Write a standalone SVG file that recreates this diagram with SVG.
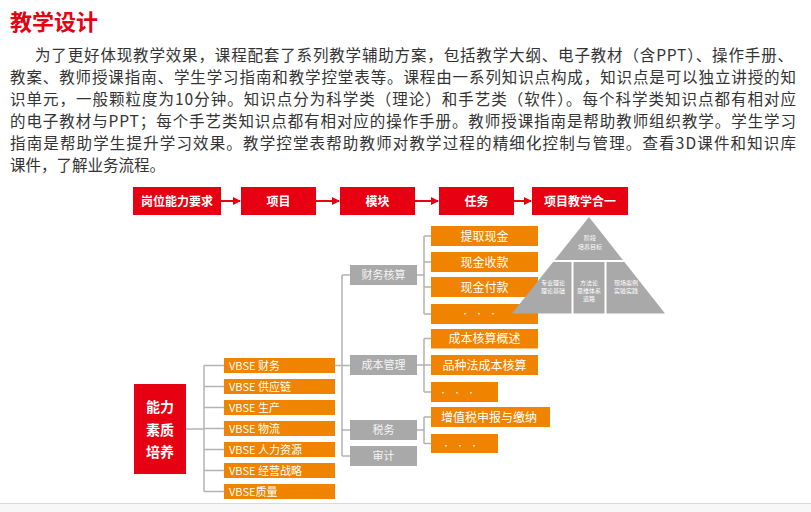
<svg xmlns="http://www.w3.org/2000/svg" width="811" height="512" viewBox="0 0 811 512">
<style>
.ft{font-family:"Noto Sans CJK SC","Noto Sans",sans-serif}
.red{fill:#E60012}
.org{fill:#F08300}
.gry{fill:#A9A9A9}
.wt{fill:#FFFFFF}
.para{font-size:15.5px;fill:#333333}
.flow{font-size:12px;font-weight:bold;fill:#FFFFFF;text-anchor:middle}
.vb{font-size:11px;fill:#FFFFFF}
.md{font-size:11px;fill:#F4F4F4;text-anchor:middle}
.tk{font-size:12px;fill:#FFFFFF;text-anchor:middle}
.dots{font-size:8px;fill:#FFFFFF;text-anchor:middle;letter-spacing:6px}
.py{font-size:6px;fill:#FFFFFF;text-anchor:middle}
.conn{stroke:#B3B3B3;stroke-width:1.5;fill:none}
.rarr{stroke:#E60012;stroke-width:2;fill:none}
</style>
<defs>
<marker id="ah" markerWidth="8" markerHeight="8" refX="7" refY="4" orient="auto" markerUnits="userSpaceOnUse">
<path d="M0,0 L8,4 L0,8 Z" fill="#E60012"/>
</marker>
</defs>
<rect width="811" height="512" fill="#FFFFFF"/>
<g id="title">
<text class="ft" x="10" y="30" font-size="22" font-weight="bold" fill="#E60012">教学设计</text>
</g>
<g id="paragraph" class="ft para">
<text x="35" y="61" textLength="758" lengthAdjust="spacing">为了更好体现教学效果，课程配套了系列教学辅助方案，包括教学大纲、电子教材（含PPT）、操作手册、</text>
<text x="10" y="83" textLength="786" lengthAdjust="spacing">教案、教师授课指南、学生学习指南和教学控堂表等。课程由一系列知识点构成，知识点是可以独立讲授的知</text>
<text x="10" y="105" textLength="786" lengthAdjust="spacing">识单元，一般颗粒度为10分钟。知识点分为科学类（理论）和手艺类（软件）。每个科学类知识点都有相对应</text>
<text x="10" y="127" textLength="786" lengthAdjust="spacing">的电子教材与PPT；每个手艺类知识点都有相对应的操作手册。教师授课指南是帮助教师组织教学。学生学习</text>
<text x="10" y="149" textLength="786" lengthAdjust="spacing">指南是帮助学生提升学习效果。教学控堂表帮助教师对教学过程的精细化控制与管理。查看3D课件和知识库</text>
<text x="10" y="171">课件，了解业务流程。</text>
</g>
<g id="flow-connectors">
<path class="rarr" d="M221 201 H240" marker-end="url(#ah)"/>
<path class="rarr" d="M316 201 H339" marker-end="url(#ah)"/>
<path class="rarr" d="M415 201 H438" marker-end="url(#ah)"/>
<path class="rarr" d="M514 201 H531" marker-end="url(#ah)"/>
</g>
<g id="flow1"><rect class="red" x="133" y="187" width="88" height="28"/><text class="ft flow" x="177" y="205.5">岗位能力要求</text></g>
<g id="flow2"><rect class="red" x="241" y="187" width="75" height="28"/><text class="ft flow" x="278.5" y="205.5">项目</text></g>
<g id="flow3"><rect class="red" x="340" y="187" width="75" height="28"/><text class="ft flow" x="377.5" y="205.5">模块</text></g>
<g id="flow4"><rect class="red" x="439" y="187" width="75" height="28"/><text class="ft flow" x="476.5" y="205.5">任务</text></g>
<g id="flow5"><rect class="red" x="532" y="187" width="96" height="28"/><text class="ft flow" x="580" y="205.5">项目教学合一</text></g>

<g id="connectors">
<path class="conn" d="M186 429 H204 M204 365.5 V491.5 M204 365.5 H224 M204 386.5 H224 M204 407.5 H224 M204 428.5 H224 M204 449.5 H224 M204 470.5 H224 M204 491.5 H224"/>
<path class="conn" d="M335 365.5 H350 M342 275 V456 M342 275 H350 M342 430 H350 M342 456 H350"/>
<path class="conn" d="M417 275 H424 M424 236 V314 M424 236 H431 M424 262 H431 M424 287 H431 M424 314 H431"/>
<path class="conn" d="M417 365 H424 M424 338.5 V392 M424 338.5 H431 M424 365 H431 M424 392 H431"/>
<path class="conn" d="M417 430 H424 M424 417 V443.5 M424 417 H431 M424 443.5 H431"/>
</g>

<g id="root"><rect class="red" x="134" y="384" width="52" height="90"/>
<text class="ft" x="160" y="412" font-size="14" font-weight="bold" fill="#FFFFFF" text-anchor="middle">能力</text>
<text class="ft" x="160" y="434.5" font-size="14" font-weight="bold" fill="#FFFFFF" text-anchor="middle">素质</text>
<text class="ft" x="160" y="457" font-size="14" font-weight="bold" fill="#FFFFFF" text-anchor="middle">培养</text></g>

<g id="vbse1"><rect class="org" x="224" y="358" width="111" height="15"/><text class="ft vb" x="229" y="369.5">VBSE 财务</text></g>
<g id="vbse2"><rect class="org" x="224" y="379" width="111" height="15"/><text class="ft vb" x="229" y="390.5">VBSE 供应链</text></g>
<g id="vbse3"><rect class="org" x="224" y="400" width="111" height="15"/><text class="ft vb" x="229" y="411.5">VBSE 生产</text></g>
<g id="vbse4"><rect class="org" x="224" y="421" width="111" height="15"/><text class="ft vb" x="229" y="432.5">VBSE 物流</text></g>
<g id="vbse5"><rect class="org" x="224" y="442" width="111" height="15"/><text class="ft vb" x="229" y="453.5">VBSE 人力资源</text></g>
<g id="vbse6"><rect class="org" x="224" y="463" width="111" height="15"/><text class="ft vb" x="229" y="474.5">VBSE 经营战略</text></g>
<g id="vbse7"><rect class="org" x="224" y="484" width="111" height="15"/><text class="ft vb" x="229" y="495.5">VBSE质量</text></g>

<g id="mod1"><rect class="gry" x="350" y="265" width="67" height="20"/><text class="ft md" x="383.5" y="279">财务核算</text></g>
<g id="mod2"><rect class="gry" x="350" y="355" width="67" height="20"/><text class="ft md" x="383.5" y="369">成本管理</text></g>
<g id="mod3"><rect class="gry" x="350" y="420" width="67" height="20"/><text class="ft md" x="383.5" y="434">税务</text></g>
<g id="mod4"><rect class="gry" x="350" y="446" width="67" height="20"/><text class="ft md" x="383.5" y="460">审计</text></g>

<g id="task1"><rect class="org" x="431" y="226" width="107" height="20"/><text class="ft tk" x="484.5" y="240.5">提取现金</text></g>
<g id="task2"><rect class="org" x="431" y="252" width="107" height="20"/><text class="ft tk" x="484.5" y="266.5">现金收款</text></g>
<g id="task3"><rect class="org" x="431" y="277" width="107" height="20"/><text class="ft tk" x="484.5" y="291.5">现金付款</text></g>
<g id="task4"><rect class="org" x="431" y="304" width="107" height="20"/><text class="ft dots" x="482" y="317">•••</text></g>
<g id="task5"><rect class="org" x="431" y="329" width="107" height="19.5"/><text class="ft tk" x="484.5" y="343">成本核算概述</text></g>
<g id="task6"><rect class="org" x="431" y="355" width="107" height="20"/><text class="ft tk" x="484.5" y="369.5">品种法成本核算</text></g>
<g id="task7"><rect class="org" x="431" y="382" width="67" height="20"/><text class="ft dots" x="460" y="395.5">•••</text></g>
<g id="task8"><rect class="org" x="431" y="407" width="119" height="20"/><text class="ft tk" x="489" y="421.5">增值税申报与缴纳</text></g>
<g id="task9"><rect class="org" x="431" y="434" width="67" height="19"/><text class="ft dots" x="463" y="448.5">•••</text></g>

<g id="pyramid">
<polygon class="gry" points="589,217 665,313.5 512,313.5"/>
<path d="M540 261 H640 M572.5 261 V314 M605.5 261 V314" stroke="#FFFFFF" stroke-width="2" fill="none"/>
<text class="ft py" x="590" y="240">阶段</text>
<text class="ft py" x="590" y="249">培养目标</text>
<text class="ft py" x="553" y="285">专业理论</text>
<text class="ft py" x="553" y="293">理论基础</text>
<text class="ft py" x="589" y="285">方法论</text>
<text class="ft py" x="589" y="293">思维体系</text>
<text class="ft py" x="589" y="301">道路</text>
<text class="ft py" x="626" y="285">现场案例</text>
<text class="ft py" x="626" y="293">实验实践</text>
</g>

<g id="footer">
<rect x="0" y="503" width="811" height="9" fill="#F7F7F7"/>
<path d="M0 503.5 H811" stroke="#D9D9D9" stroke-width="1"/>
</g>
</svg>
